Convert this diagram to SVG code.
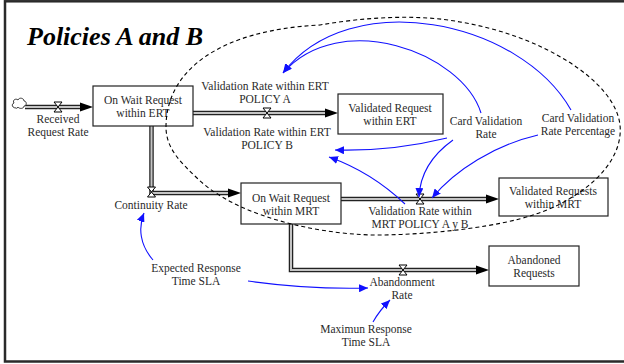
<svg xmlns="http://www.w3.org/2000/svg" width="624" height="364" viewBox="0 0 624 364">
  <style>
    .lbl { font-family: "Liberation Serif", "Times New Roman", serif; font-size: 11.5px; fill: #2a2a2a; text-anchor: middle; }
    .title { font-family: "Liberation Serif", "Times New Roman", serif; font-size: 26px; font-weight: bold; font-style: italic; fill: #000; }
    .box { fill: #fff; stroke: #222; stroke-width: 1.2; }
    .pipe-out { fill: none; stroke: #222; stroke-width: 4.5; stroke-linejoin: miter; }
    .pipe-in { fill: none; stroke: #c4c4c4; stroke-width: 2; stroke-linejoin: miter; }
    .head { fill: #000; }
    .valve { fill: #fff; stroke: #000; stroke-width: 1; }
    .link { fill: none; stroke: #1010ff; stroke-width: 1.1; marker-end: url(#arrow); }
    .boundary { fill: none; stroke: #000; stroke-width: 1.1; stroke-dasharray: 4 3; }
  </style>
  <defs>
    <marker id="arrow" markerUnits="userSpaceOnUse" markerWidth="10" markerHeight="8" refX="9" refY="4" orient="auto">
      <path d="M0,0 L9,4 L0,8 z" fill="#1010ff"/>
    </marker>
    <g id="valve">
      <path class="valve" d="M-4,-5 L4,-5 L0,0 Z M-4,5 L4,5 L0,0 Z"/>
    </g>
  </defs>

  <rect x="0" y="0" width="624" height="364" fill="#fff"/>
  <!-- frame -->
  <rect x="5" y="1.3" width="650" height="360.2" fill="none" stroke="#2a2a2a" stroke-width="2.5"/>

  <text class="title" x="27" y="45">Policies A and B</text>

  <!-- material flows -->
  <g id="flows">
    <path class="pipe-out" d="M25,107 H81"/>
    <path class="pipe-in" d="M25,107 H81"/>
    <polygon class="head" points="80,102.5 93,107 80,111.5"/>

    <path class="pipe-out" d="M193,113 H326"/>
    <path class="pipe-in" d="M193,113 H326"/>
    <polygon class="head" points="325,108.5 338,113 325,117.5"/>

    <path class="pipe-out" d="M151.5,126 V193 H229"/>
    <path class="pipe-in" d="M151.5,126 V193 H229"/>
    <polygon class="head" points="228,188.5 241,193 228,197.5"/>

    <path class="pipe-out" d="M341,199 H487"/>
    <path class="pipe-in" d="M341,199 H487"/>
    <polygon class="head" points="486,194.5 499,199 486,203.5"/>

    <path class="pipe-out" d="M291,224 V270 H477"/>
    <path class="pipe-in" d="M291,224 V270 H477"/>
    <polygon class="head" points="476,265.5 489,270 476,274.5"/>
  </g>

  <!-- source cloud -->
  <g id="cloud">
    <path d="M16,108 C12,108 11,104 14,103 C12,100 16,98 18,100 C19,97 24,98 24,101 C27,101 27,106 24,106 C24,109 19,109 18,107 C17,109 16,108 16,108 Z" fill="#fff" stroke="#222" stroke-width="0.9"/>
  </g>

  <!-- rates (valves) -->
  <g id="received-request-rate">
    <use href="#valve" x="58" y="107"/>
    <text class="lbl" x="58" y="123">Received</text>
    <text class="lbl" x="58" y="135.5">Request Rate</text>
  </g>
  <g id="validation-rate-ert-a">
    <use href="#valve" x="267" y="113"/>
    <text class="lbl" x="265" y="90">Validation Rate within ERT</text>
    <text class="lbl" x="265" y="103">POLICY A</text>
  </g>
  <g id="validation-rate-ert-b">
    <text class="lbl" x="267" y="136">Validation Rate within ERT</text>
    <text class="lbl" x="267" y="149">POLICY B</text>
  </g>
  <g id="continuity-rate">
    <use href="#valve" x="151.5" y="192"/>
    <text class="lbl" x="151" y="209">Continuity Rate</text>
  </g>
  <g id="validation-rate-mrt">
    <use href="#valve" x="420" y="199"/>
    <text class="lbl" x="420" y="215">Validation Rate within</text>
    <text class="lbl" x="420" y="227.5">MRT POLICY A y B</text>
  </g>
  <g id="abandonment-rate">
    <use href="#valve" x="403" y="270"/>
    <text class="lbl" x="402" y="286">Abandonment</text>
    <text class="lbl" x="402" y="299">Rate</text>
  </g>

  <!-- stocks -->
  <g id="on-wait-ert">
    <rect class="box" x="93" y="86" width="100" height="40"/>
    <text class="lbl" x="143" y="104">On Wait Request</text>
    <text class="lbl" x="143" y="117">within ERT</text>
  </g>
  <g id="validated-ert">
    <rect class="box" x="338" y="94" width="105" height="40"/>
    <text class="lbl" x="390" y="112">Validated Request</text>
    <text class="lbl" x="390" y="125">within ERT</text>
  </g>
  <g id="on-wait-mrt">
    <rect class="box" x="241" y="183" width="100" height="41"/>
    <text class="lbl" x="291" y="202">On Wait Request</text>
    <text class="lbl" x="291" y="215">within MRT</text>
  </g>
  <g id="validated-mrt">
    <rect class="box" x="499" y="178" width="109" height="38"/>
    <text class="lbl" x="553" y="195">Validated Requests</text>
    <text class="lbl" x="553" y="207.5">within MRT</text>
  </g>
  <g id="abandoned">
    <rect class="box" x="489" y="246" width="90" height="40"/>
    <text class="lbl" x="534" y="264">Abandoned</text>
    <text class="lbl" x="534" y="277">Requests</text>
  </g>

  <!-- auxiliaries -->
  <g id="card-validation-rate">
    <text class="lbl" x="486" y="125">Card Validation</text>
    <text class="lbl" x="486" y="137.5">Rate</text>
  </g>
  <g id="card-validation-pct">
    <text class="lbl" x="578" y="122">Card Validation</text>
    <text class="lbl" x="578" y="135">Rate Percentage</text>
  </g>
  <g id="expected-sla">
    <text class="lbl" x="196" y="272">Expected Response</text>
    <text class="lbl" x="196" y="284.5">Time SLA</text>
  </g>
  <g id="max-sla">
    <text class="lbl" x="366" y="333">Maximun Response</text>
    <text class="lbl" x="366" y="345.5">Time SLA</text>
  </g>

  <!-- dashed policy boundary, drawn over the stocks -->
  <path class="boundary" d="M166,127 C166,70 220,30 320,25 C365,17 420,14 460,22 C540,35 615,80 620,125 C624,165 580,200 533,215 C500,226 440,234 383,235 C330,236 240,220 197,178 C180,162 166,148 166,127 Z"/>

  <!-- information links -->
  <g id="links">
    <path class="link" d="M153,260 C140,245 138,228 144,213"/>
    <path class="link" d="M248,281 C290,287 330,289 368,288"/>
    <path class="link" d="M373,322 C378,313 384,306 390,300"/>
    <path class="link" d="M447,138 C410,147 370,151 335,150"/>
    <path class="link" d="M453,140 C432,155 420,175 419,197"/>
    <path class="link" d="M538,135 C495,145 455,170 432,198"/>
    <path class="link" d="M405,204 C385,185 360,168 329,157"/>
    <path class="link" d="M481,113 C462,52 340,8 283,73"/>
    <path class="link" d="M571,110 C520,20 350,-15 283,73"/>
  </g>
</svg>
